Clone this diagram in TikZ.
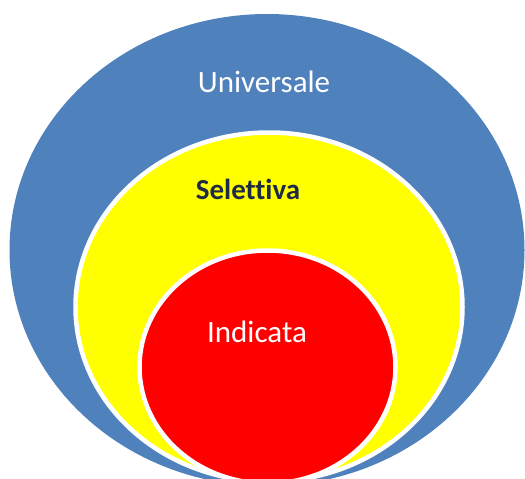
\documentclass[tikz,border=0pt]{standalone}
\usepackage{fontspec}
\setmainfont{Carlito}[Ligatures=NoCommon]
\definecolor{ringblue}{HTML}{4F81BD}
\definecolor{ringyellow}{HTML}{FFFF00}
\definecolor{ringred}{HTML}{FF0000}
\definecolor{navytext}{HTML}{1F2A44}
\tikzset{
  ring/.style={draw=white, line width=4.5pt},
  lbl/.style={inner sep=0pt, font=\fontsize{31}{37}\selectfont}
}
\begin{document}
\begin{tikzpicture}[x=1pt,y=-1pt]
\useasboundingbox (0,0) rectangle (525,479);
\clip (0,0) rectangle (525,479);
\fill[ringblue] (267,250) ellipse [x radius=257.5, y radius=236];
\draw[ring, fill=ringyellow] (269,307) ellipse [x radius=193.5, y radius=174.5];
\draw[ring, fill=ringred] (267.5,367) ellipse [x radius=128, y radius=116.5];
\node[lbl, text=white] (universale) at (264,82) {Universale};
\node[lbl, text=navytext, font=\fontsize{29}{35}\selectfont\bfseries] (selettiva) at (248,189) {Selettiva};
\node[lbl, text=white] (indicata) at (257,332) {Indicata};
\end{tikzpicture}
\end{document}
